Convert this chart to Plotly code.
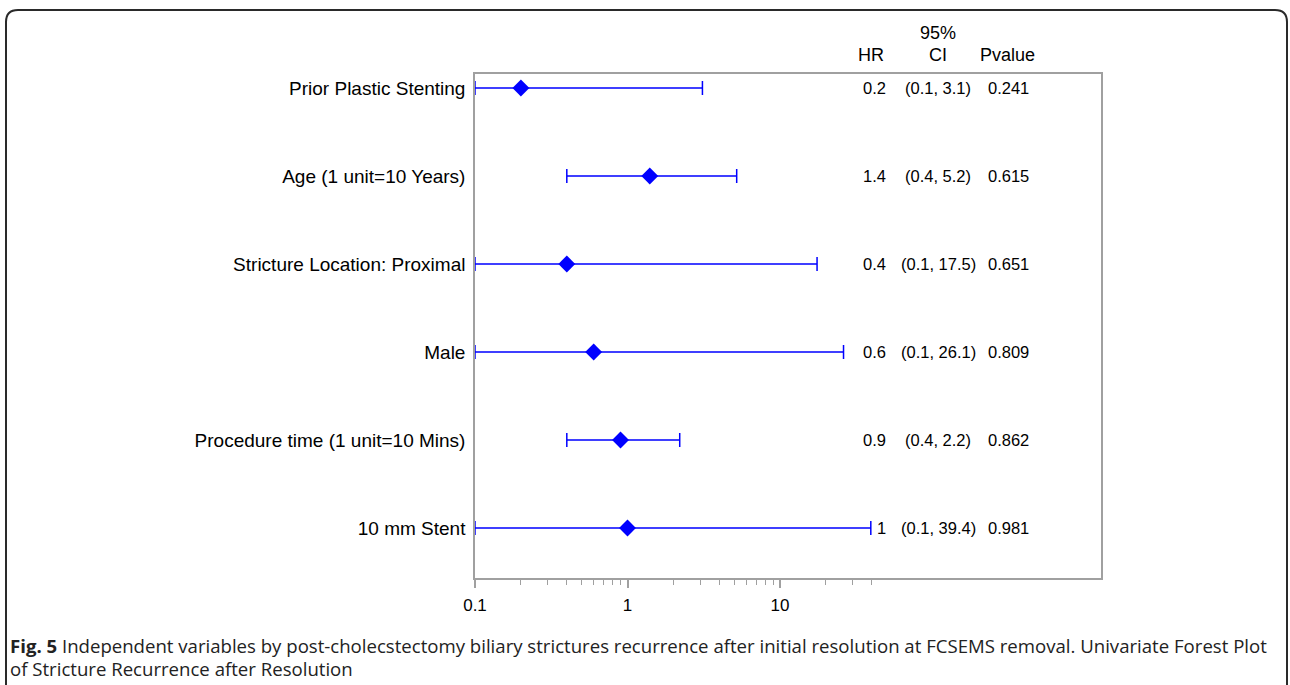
import plotly.graph_objects as go

variables = ["Prior Plastic Stenting", "Age (1 unit=10 Years)", "Stricture Location: Proximal",
             "Male", "Procedure time (1 unit=10 Mins)", "10 mm Stent"]
hr = [0.2, 1.4, 0.4, 0.6, 0.9, 1.0]
ci_low = [0.1, 0.4, 0.1, 0.1, 0.4, 0.1]
ci_high = [3.1, 5.2, 17.5, 26.1, 2.2, 39.4]
hr_text = ["0.2", "1.4", "0.4", "0.6", "0.9", "1"]
ci_text = ["(0.1, 3.1)", "(0.4, 5.2)", "(0.1, 17.5)", "(0.1, 26.1)", "(0.4, 2.2)", "(0.1, 39.4)"]
p_text = ["0.241", "0.615", "0.651", "0.809", "0.862", "0.981"]
major_ticks = [0.1, 1, 10]
major_labels = ["0.1", "1", "10"]
minor_ticks = [0.2, 0.3, 0.4, 0.5, 0.6, 0.7, 0.8, 0.9, 2, 3, 4, 5, 6, 7, 8, 9, 20, 30, 40]

W, H = 1290, 685
L, R, T, B = 475, 1101, 74, 578
pw, ph = R - L, B - T

def px(x):
    return (x - L) / pw

def py(y):
    return (B - y) / ph

ypos = list(range(len(variables)))
FONT = "Liberation Sans, Arial, sans-serif"

fig = go.Figure()
fig.add_trace(go.Scatter(
    x=hr, y=ypos, mode="markers",
    marker=dict(symbol="diamond", size=13, color="#0000FF"),
    error_x=dict(type="data", symmetric=False,
                 array=[h - hr[i] for i, h in enumerate(ci_high)],
                 arrayminus=[hr[i] - l for i, l in enumerate(ci_low)],
                 color="#0000FF", thickness=1.5, width=7),
    showlegend=False, cliponaxis=False, hoverinfo="skip",
))

# reference line at HR = 1
fig.add_shape(type="line", xref="x", yref="paper", x0=0, x1=0, y0=0, y1=1,
              line=dict(color="#A0A0A0", width=1.5), layer="below")

# text columns
val_font = dict(size=16.5, color="black", family=FONT)
hr_x, ci_x, p_x = px(888), px(938), px(986)
for i in range(len(variables)):
    fig.add_annotation(x=hr_x, y=ypos[i], xref="paper", yref="y", text=hr_text[i],
                       xanchor="right", showarrow=False, font=val_font)
    fig.add_annotation(x=ci_x, y=ypos[i], xref="paper", yref="y", text=ci_text[i],
                       xanchor="center", showarrow=False, font=val_font)
    fig.add_annotation(x=p_x, y=ypos[i], xref="paper", yref="y", text=p_text[i],
                       xanchor="left", showarrow=False, font=val_font)

# headers
hdr = dict(showarrow=False, xref="paper", yref="paper", font=dict(size=18, color="black", family=FONT))
fig.add_annotation(x=px(886), y=py(55), text="HR", xanchor="right", yanchor="middle", **hdr)
fig.add_annotation(x=px(938), y=py(33), text="95%", xanchor="center", yanchor="middle", **hdr)
fig.add_annotation(x=px(938), y=py(55), text="CI", xanchor="center", yanchor="middle", **hdr)
fig.add_annotation(x=px(978), y=py(55), text="Pvalue", xanchor="left", yanchor="middle", **hdr)

# caption
cap_font = dict(size=18.6, color="#222222", family="Open Sans, sans-serif")
fig.add_annotation(x=px(8), y=py(645), xref="paper", yref="paper", xanchor="left", yanchor="middle",
                   align="left", showarrow=False,
                   text="<b>Fig. 5</b> Independent variables by post-cholecstectomy biliary strictures recurrence after initial resolution at FCSEMS removal. Univariate Forest Plot",
                   font=cap_font)
fig.add_annotation(x=px(8), y=py(668), xref="paper", yref="paper", xanchor="left", yanchor="middle",
                   align="left", showarrow=False,
                   text="of Stricture Recurrence after Resolution",
                   font=cap_font)

# rounded outer frame
x0, x1, y0, y1, r = 6, 1287, 10, 700, 12
path = (f"M {px(x0)},{py(y1)} L {px(x0)},{py(y0 + r)} Q {px(x0)},{py(y0)} {px(x0 + r)},{py(y0)} "
        f"L {px(x1 - r)},{py(y0)} Q {px(x1)},{py(y0)} {px(x1)},{py(y0 + r)} L {px(x1)},{py(y1)}")
fig.add_shape(type="path", xref="paper", yref="paper", path=path,
              line=dict(color="#2a2a2a", width=2))

fig.update_layout(
    width=W, height=H,
    margin=dict(l=L, r=W - R, t=T, b=H - B, pad=0),
    paper_bgcolor="white", plot_bgcolor="white",
    font=dict(family=FONT, size=16, color="black"),
    xaxis=dict(type="log", range=[-1, 3.105], showgrid=False, zeroline=False,
               showline=True, mirror=True, linecolor="#A0A0A0", linewidth=1.5,
               tickvals=major_ticks, ticktext=major_labels, ticks="outside", ticklen=8,
               tickcolor="#A0A0A0", tickwidth=1.5, ticklabelstandoff=3,
               tickfont=dict(size=17, color="black", family=FONT),
               minor=dict(tickvals=minor_ticks, ticks="outside", ticklen=5,
                          tickcolor="#A0A0A0", tickwidth=1.2, showgrid=False)),
    yaxis=dict(range=[5 + 50 / 88, -14 / 88], showgrid=False, zeroline=False,
               showline=True, mirror=True, linecolor="#A0A0A0", linewidth=1.5,
               tickvals=ypos, ticktext=variables, ticks="", ticklabelstandoff=4,
               tickfont=dict(size=19, color="black", family=FONT)),
)

fig.write_html("out.html", config={"displayModeBar": False},
               post_script="document.body.style.margin='0';")
